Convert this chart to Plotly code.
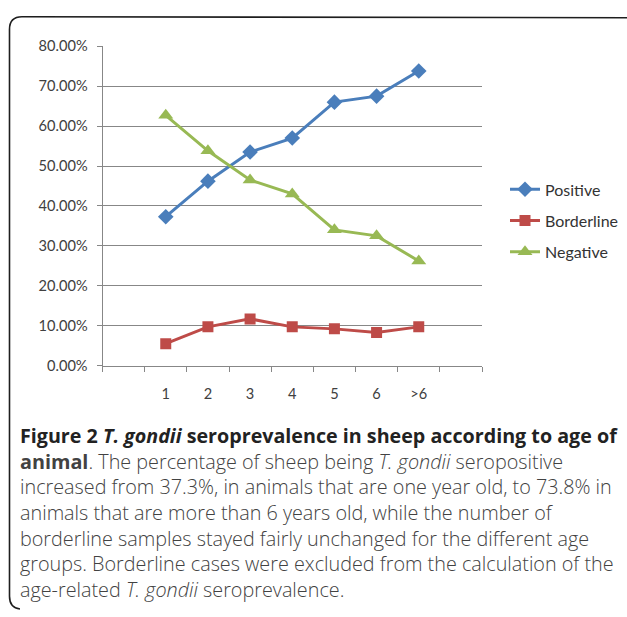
import plotly.graph_objects as go

# Age groups (years) and the share of sheep in each serological class
age_groups = ["1", "2", "3", "4", "5", "6", ">6"]
positive = [0.373, 0.462, 0.535, 0.570, 0.660, 0.675, 0.738]
borderline = [0.055, 0.097, 0.117, 0.097, 0.092, 0.083, 0.097]
negative = [0.627, 0.538, 0.465, 0.430, 0.340, 0.325, 0.262]

y_ticks = [0.0, 0.1, 0.2, 0.3, 0.4, 0.5, 0.6, 0.7, 0.8]

W, H = 627, 617


def px(x):
    return x / W


def py(y):
    return 1 - y / H


# one category slot per age group, plus an empty slot at each end
x_pos = [i + 1 for i in range(len(age_groups))]
slot_edges = [i - 0.5 for i in range(len(age_groups) + 3)]

grid = "#878787"
tick_font = dict(family="Lato, 'Open Sans', sans-serif", size=14.6, color="#404040")

series = [
    ("Positive", positive, "#4A7EBB", dict(symbol="diamond", size=12)),
    ("Borderline", borderline, "#BE4B48", dict(symbol="square", size=11)),
    ("Negative", negative, "#98B954", dict(symbol="triangle-up", size=13)),
]

fig = go.Figure()
for name, vals, color, marker in series:
    fig.add_trace(go.Scatter(
        x=x_pos, y=vals, name=name, legendgroup=name,
        mode="lines+markers",
        line=dict(color=color, width=3),
        marker=dict(color=color, **marker),
        hovertemplate="%{y:.1%}<extra>" + name + "</extra>",
    ))

fig.update_xaxes(
    domain=[px(102.5), px(482)],
    range=[-0.5, len(age_groups) + 1.5],
    tickmode="array", tickvals=x_pos, ticktext=age_groups,
    ticks="", showgrid=False, zeroline=False,
    showline=True, linecolor=grid, linewidth=1,
    tickfont=tick_font, ticklabelstandoff=15,
    minor=dict(tickmode="array", tickvals=slot_edges, ticks="outside",
               ticklen=5, tickcolor=grid, showgrid=False),
    fixedrange=True,
)
fig.update_yaxes(
    domain=[py(366.7), py(38.3)],
    range=[0, 0.8],
    tickmode="array", tickvals=y_ticks, tickformat=".2%",
    ticks="outside", ticklen=5, tickcolor=grid,
    showgrid=True, gridcolor=grid, gridwidth=1,
    zeroline=False, showline=True, linecolor=grid, linewidth=1,
    tickfont=tick_font, ticklabelstandoff=6,
    fixedrange=True,
)

# frame around the figure panel
frame = (
    f"M {px(627)},{py(9)} L {px(22)},{py(8)} "
    f"Q {px(9.5)},{py(8)} {px(9.5)},{py(21)} "
    f"L {px(9.5)},{py(604)} Q {px(9.5)},{py(616)} {px(20)},{py(617)}"
)
shapes = [dict(type="path", xref="paper", yref="paper", path=frame,
               line=dict(color="#1E1E1E", width=1.6))]

cap_font = "'Open Sans', sans-serif"
body = "#424242"
caption_lines = [
    "<b>Figure 2 <i>T. gondii</i> seroprevalence in sheep according to age of</b>",
    "<b>animal</b>. The percentage of sheep being <i>T. gondii</i> seropositive",
    "increased from 37.3%, in animals that are one year old, to 73.8% in",
    "animals that are more than 6 years old, while the number of",
    "borderline samples stayed fairly unchanged for the different age",
    "groups. Borderline cases were excluded from the calculation of the",
    "age-related <i>T. gondii</i> seroprevalence.",
]
annotations = []
for i, line in enumerate(caption_lines):
    annotations.append(dict(
        text=line, xref="paper", yref="paper",
        x=px(18), y=py(438.5 + 26.4 * i), xanchor="left", yanchor="middle",
        showarrow=False, align="left",
        font=dict(family=cap_font, size=19.7 if i == 0 else 19.8,
                  weight=400 if i == 0 else 300,
                  color="#222222" if i == 0 else body),
    ))

fig.update_layout(
    width=W, height=H,
    margin=dict(l=0, r=0, t=0, b=0),
    paper_bgcolor="white", plot_bgcolor="white",
    showlegend=True,
    legend=dict(x=px(505), y=py(168), xanchor="left", yanchor="top",
                font=dict(family="Lato, 'Open Sans', sans-serif", size=16, color="#333333"),
                tracegroupgap=7.5, itemwidth=30, bgcolor="rgba(0,0,0,0)"),
    shapes=shapes,
    annotations=annotations,
)

fig.write_html("out.html")
